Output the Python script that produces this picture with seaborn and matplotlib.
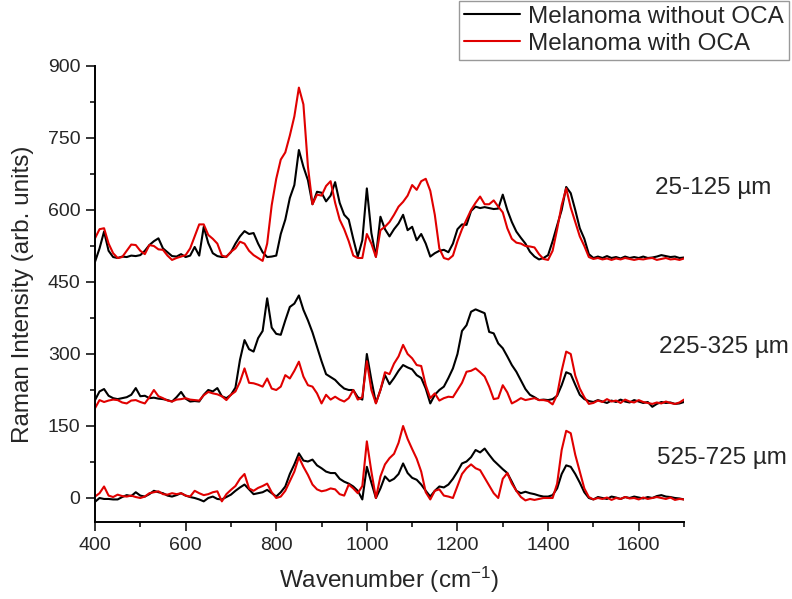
import matplotlib
matplotlib.use("Agg")
import matplotlib.pyplot as plt
from matplotlib.ticker import MultipleLocator, AutoMinorLocator
import numpy as np
import seaborn as sns

# wavenumber sampling grid (cm-1)
wavenumber = np.arange(400, 1701, 10)

# 25-125 um, offset ~500
top_without = [
    492, 520, 555, 515, 502, 500, 503, 502, 505, 504,
    506, 515, 527, 535, 541, 520, 512, 504, 503, 508,
    502, 505, 523, 505, 565, 531, 510, 504, 502, 503,
    512, 530, 545, 556, 550, 552, 530, 512, 502, 503,
    505, 550, 580, 625, 652, 725, 690, 662, 612, 638,
    636, 618, 630, 658, 615, 590, 580, 540, 503, 537,
    645, 552, 503, 586, 560, 545, 560, 572, 590, 558,
    565, 537, 550, 530, 503, 510, 515, 517, 512, 530,
    560, 570, 569, 598, 607, 604, 606, 604, 602, 603,
    632, 600, 575, 555, 542, 530, 513, 503, 497, 500,
    506, 535, 568, 600, 648, 635, 600, 562, 540, 508,
    500, 503, 500, 504, 500, 502, 499, 503, 500, 502,
    500, 503, 500, 501, 503, 506, 504, 502, 503, 500,
    501,
]
top_with = [
    541, 560, 562, 530, 510, 500, 502, 515, 528, 527,
    515, 508, 527, 525, 518, 517, 505, 496, 500, 503,
    506, 520, 545, 570, 570, 548, 540, 530, 505, 502,
    513, 520, 534, 530, 515, 506, 500, 494, 530, 610,
    665, 705, 720, 755, 795, 855, 820, 690, 612, 632,
    630, 650, 660, 615, 580, 560, 535, 505, 500, 500,
    550, 530, 502, 558, 565, 575, 590, 607, 617, 630,
    652, 642, 660, 665, 640, 590, 520, 500, 497, 505,
    535, 560, 580, 600, 615, 628, 612, 612, 620, 607,
    595, 562, 540, 532, 530, 525, 524, 522, 508, 498,
    496, 515, 560, 610, 645, 605, 575, 545, 525, 502,
    498, 500, 497, 499, 496, 499, 497, 500, 498, 496,
    498, 497, 499, 500, 496, 498, 500, 497, 498, 496,
    499,
]

# 225-325 um, offset ~200
mid_without = [
    204, 222, 227, 213, 208, 206, 208, 210, 215, 229,
    212, 213, 208, 209, 207, 206, 204, 201, 210, 221,
    207, 201, 202, 201, 215, 225, 222, 229, 212, 208,
    215, 230, 288, 329, 310, 305, 333, 348, 416, 355,
    342, 340, 370, 398, 405, 422, 392, 370, 345, 315,
    285, 258, 252, 246, 236, 228, 225, 225, 210, 205,
    300, 246, 198, 225, 256, 237, 250, 265, 277, 272,
    268, 256, 250, 228, 197, 215, 225, 232, 250, 270,
    300, 348, 360, 388, 393, 389, 385, 346, 343, 322,
    312, 295, 277, 263, 245, 227, 215, 210, 204, 205,
    204, 206, 213, 235, 262, 258, 236, 215, 206, 202,
    200, 204, 201, 198, 203, 200, 205, 201, 199, 204,
    201, 198, 200, 190, 196, 200, 198, 199, 196, 197,
    200,
]
mid_with = [
    187, 204, 200, 203, 205, 204, 199, 197, 203, 204,
    200, 197, 210, 225, 212, 208, 203, 201, 205, 206,
    208, 205, 204, 203, 214, 221, 218, 216, 212, 204,
    215, 222, 242, 270, 240, 239, 236, 232, 249, 228,
    225, 232, 256, 249, 265, 284, 253, 235, 232, 218,
    197, 215, 205, 211, 205, 201, 208, 225, 205, 210,
    285, 225, 197, 225, 262, 258, 280, 295, 319, 300,
    291, 277, 275, 235, 208, 218, 203, 208, 211, 210,
    225, 240, 263, 265, 270, 262, 253, 232, 206, 208,
    235, 220, 197, 202, 208, 204, 206, 208, 204, 204,
    202, 195, 215, 265, 305, 300, 255, 228, 210, 196,
    198, 203, 200, 206, 201, 203, 198, 205, 201, 199,
    204, 200, 198, 196, 199, 197, 201, 198, 196, 199,
    205,
]

# 525-725 um, offset 0
low_without = [
    -8, 0, -2, -2, -3, -3, 2, 6, 4, 12,
    5, 3, 8, 15, 12, 10, 5, 3, 6, 10,
    5, 2, 0, -3, -7, 0, 3, -2, -3, 2,
    7, 15, 22, 28, 18, 8, 10, 12, 17, 10,
    3, 12, 24, 50, 70, 93, 78, 76, 80, 68,
    62, 55, 52, 52, 40, 34, 30, 24, 15, -3,
    65, 32, 0, 20, 45, 35, 40, 50, 72, 52,
    42, 38, 28, 15, 3, 15, 24, 22, 28, 40,
    55, 72, 76, 85, 100, 95, 103, 90, 78, 69,
    60, 52, 34, 15, 10, 13, 10, 8, 5, 3,
    3, 6, 20, 50, 68, 65, 50, 32, 12, 0,
    -3, 2, 0, -2, 3, 1, -2, 2, 0, 3,
    1, -1, 2, 0, 4, 6, 3, 2, 0, -1,
    -3,
]
low_with = [
    3, 10, 24, 5, 2, 7, 4, 3, 5, 2,
    0, 3, 10, 12, 14, 8, 7, 10, 8, 10,
    5, 3, 15, 10, 6, 8, 12, 14, -7, 8,
    17, 25, 40, 50, 20, 15, 21, 25, 30, 12,
    0, 3, 15, 35, 55, 85, 65, 48, 28, 18,
    14, 16, 20, 18, 8, 5, 28, 20, 10, 25,
    118, 55, 0, 45, 70, 83, 92, 115, 150, 123,
    102, 82, 55, 12, -3, 15, 18, 5, 3, 0,
    25, 50, 62, 70, 62, 58, 42, 26, 10, 0,
    40, 52, 30, 15, 2, -5, -2, -4, -2, 0,
    0, 0, 30, 100, 140, 135, 90, 55, 20, 2,
    -3, 0, -2, 1, -4, 0, -2, 2, -1, 0,
    -3, 1, -2, 0, 2, 0, -2, 1, -4, -2,
    -3,
]

depths = ["25-125 µm", "225-325 µm", "525-725 µm"]
without_oca = [top_without, mid_without, low_without]
with_oca = [top_with, mid_with, low_with]

sns.set_style("ticks")
plt.rcParams["font.family"] = ["Liberation Sans", "DejaVu Sans"]
plt.rcParams["mathtext.fontset"] = "custom"
plt.rcParams["mathtext.rm"] = "Liberation Sans"
plt.rcParams["mathtext.it"] = "Liberation Sans:italic"

fig = plt.figure(figsize=(7.92, 5.99), dpi=100)
ax = fig.add_axes([95 / 792, 77 / 599, 589 / 792, 456 / 599])

black = "#000000"
red = "#e00000"
for i in range(3):
    sns.lineplot(x=wavenumber, y=without_oca[i], color=black, lw=1.5, ax=ax,
                 label="Melanoma without OCA" if i == 0 else None)
    sns.lineplot(x=wavenumber, y=with_oca[i], color=red, lw=1.5, ax=ax,
                 label="Melanoma with OCA" if i == 0 else None)

ax.set_xlim(400, 1700)
ax.set_ylim(-50, 900)
ax.xaxis.set_major_locator(MultipleLocator(200))
ax.xaxis.set_minor_locator(AutoMinorLocator(2))
ax.yaxis.set_major_locator(MultipleLocator(150))
ax.yaxis.set_minor_locator(AutoMinorLocator(2))
ax.tick_params(which="major", direction="out", length=6.5, width=1.1, labelsize=14, pad=4, color="black")
ax.tick_params(which="minor", direction="out", length=3.6, width=1.1, color="black")
sns.despine(ax=ax)
for s in ["left", "bottom"]:
    ax.spines[s].set_linewidth(1.4)
    ax.spines[s].set_color("black")

ax.set_xlabel("Wavenumber (cm$^{\\mathrm{-1}}$)", fontsize=17.5, labelpad=8)
ax.set_ylabel("Raman Intensity (arb. units)", fontsize=17.5, labelpad=10)

# depth labels on the right
label_pos = [(1636, 646), (1645, 315), (1640, 83)]
for (lx, ly), txt in zip(label_pos, depths):
    ax.text(lx, ly, txt, fontsize=17.5, ha="left", va="center", clip_on=False)

handles, labels = ax.get_legend_handles_labels()
leg = ax.legend(handles, labels, loc="upper right",
                bbox_to_anchor=(789 / 792, 1 - 1 / 599), bbox_transform=fig.transFigure,
                frameon=True, fancybox=False, edgecolor="#808080", fontsize=17.5,
                handlelength=2.3, handletextpad=0.35, labelspacing=0.2,
                borderpad=0.2, borderaxespad=0)
leg.get_frame().set_linewidth(1.0)

fig.savefig("out.png", dpi=100)
